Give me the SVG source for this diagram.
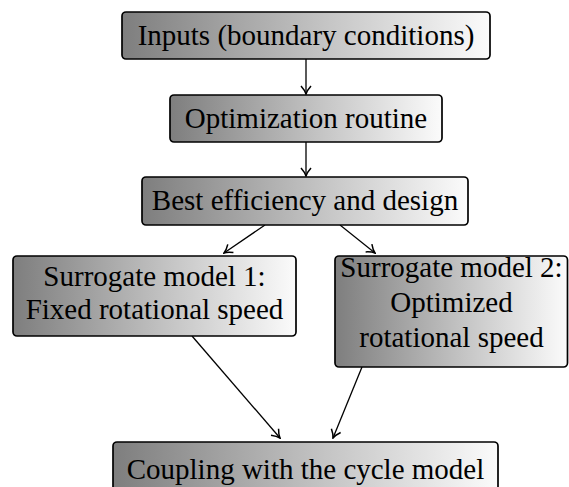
<svg xmlns="http://www.w3.org/2000/svg" width="569" height="487" viewBox="0 0 569 487">
<style>
.box{fill:url(#g);stroke:#000;stroke-width:1.7}
.t{font-family:"Liberation Serif","DejaVu Serif",serif;font-size:29px;fill:#000;text-anchor:middle}
.c{fill:none;stroke:#000;stroke-width:1.3;marker-end:url(#a)}
</style>
<defs>
<linearGradient id="g" x1="0" y1="0" x2="1" y2="0">
<stop offset="0" stop-color="#7e7e7e"/>
<stop offset="0.55" stop-color="#c4c4c4"/>
<stop offset="1" stop-color="#fbfbfb"/>
</linearGradient>
<marker id="a" viewBox="-9 -6 10 12" refX="0" refY="0" markerWidth="10" markerHeight="12" markerUnits="userSpaceOnUse" orient="auto">
<path d="M-8,-5 Q-3.5,-1 0,0 Q-3.5,1 -8,5" fill="none" stroke="#000" stroke-width="1.5"/>
</marker>
</defs>
<g id="connectors">
<line class="c" x1="306" y1="59" x2="306" y2="94"/>
<line class="c" x1="306" y1="142" x2="306" y2="176"/>
<line class="c" x1="265" y1="225" x2="224" y2="253"/>
<line class="c" x1="340" y1="225" x2="375" y2="253"/>
<line class="c" x1="192" y1="336" x2="280" y2="438"/>
<line class="c" x1="362" y1="367" x2="333" y2="438"/>
</g>
<g id="n1">
<rect class="box" x="122" y="12" width="368" height="47" rx="4"/>
<text class="t" x="306" y="45">Inputs (boundary conditions)</text>
</g>
<g id="n2">
<rect class="box" x="170" y="95" width="272" height="47" rx="4"/>
<text class="t" x="306" y="128">Optimization routine</text>
</g>
<g id="n3">
<rect class="box" x="142" y="177" width="326" height="48" rx="4"/>
<text class="t" x="305" y="210">Best efficiency and design</text>
</g>
<g id="n4">
<rect class="box" x="13" y="256" width="283" height="80" rx="4"/>
<text class="t" x="154.5" y="286">Surrogate model 1:</text>
<text class="t" x="154.5" y="319">Fixed rotational speed</text>
</g>
<g id="n5">
<rect class="box" x="335" y="256" width="232.5" height="111" rx="4"/>
<text class="t" x="451.5" y="277">Surrogate model 2:</text>
<text class="t" x="451.5" y="312">Optimized</text>
<text class="t" x="451.5" y="347">rotational speed</text>
</g>
<g id="n6">
<rect class="box" x="113" y="442" width="385" height="60" rx="4"/>
<text class="t" x="305.5" y="479">Coupling with the cycle model</text>
</g>
</svg>
